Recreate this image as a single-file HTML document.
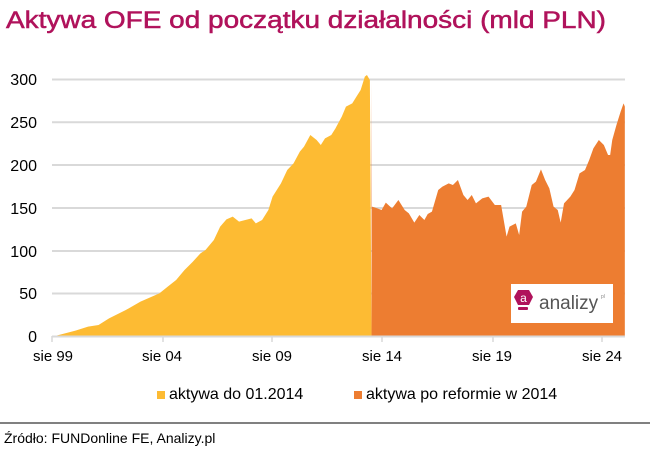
<!DOCTYPE html>
<html><head><meta charset="utf-8"><style>
body{margin:0;background:#fff;}
svg{display:block;font-family:"Liberation Sans",sans-serif;}
</style></head><body>
<svg width="650" height="453" viewBox="0 0 650 453">
<rect width="650" height="453" fill="#fff"/>
<text x="6" y="28" font-size="24" fill="#b0125b" stroke="#b0125b" stroke-width="0.5" textLength="600" lengthAdjust="spacingAndGlyphs">Aktywa OFE od początku działalności (mld PLN)</text>
<g stroke="#d9d9d9" stroke-width="2">
<line x1="52" x2="625" y1="79.5" y2="79.5"/>
<line x1="52" x2="625" y1="122.3" y2="122.3"/>
<line x1="52" x2="625" y1="165" y2="165"/>
<line x1="52" x2="625" y1="208" y2="208"/>
<line x1="52" x2="625" y1="251" y2="251"/>
<line x1="52" x2="625" y1="293.5" y2="293.5"/>
</g>
<g transform="translate(0,60) scale(0.41935,0.33333)">
<polygon fill="#fdbb33" points="125,830 140,825 180,812 210,800 235,795 260,775 300,750 335,725 380,700 400,680 420,660 440,630 460,605 478,580 490,570 510,540 525,500 540,478 555,470 570,485 600,475 610,490 625,480 640,450 650,410 670,370 685,330 700,310 715,275 725,260 740,225 755,240 765,255 775,235 790,225 800,205 815,170 825,140 840,130 850,110 860,90 870,50 875,45 882,60 886,830"/>
<polygon fill="#ed7d31" points="886,830 886,60 887,440 900,445 910,450 920,428 935,445 950,420 965,450 975,460 988,488 1000,465 1012,480 1020,462 1030,455 1045,390 1055,380 1070,370 1080,375 1092,360 1105,405 1115,420 1125,405 1135,430 1150,415 1165,410 1180,435 1195,435 1208,530 1215,500 1230,490 1238,525 1245,455 1255,440 1268,375 1278,365 1290,328 1300,360 1310,385 1320,440 1330,450 1337,488 1345,430 1360,410 1370,390 1382,340 1395,330 1405,300 1415,265 1428,240 1440,255 1450,285 1455,285 1460,240 1470,195 1480,155 1487,130 1490,140 1490,830"/>
</g>
<line x1="52" x2="625" y1="336.5" y2="336.5" stroke="#d9d9d9" stroke-width="2"/>
<g stroke="#d9d9d9" stroke-width="1.5">
<line x1="52" x2="52" y1="336" y2="342"/><line x1="163" x2="163" y1="336" y2="342"/>
<line x1="272" x2="272" y1="336" y2="342"/><line x1="382" x2="382" y1="336" y2="342"/>
<line x1="493" x2="493" y1="336" y2="342"/><line x1="602" x2="602" y1="336" y2="342"/>
</g>
<g font-size="16" fill="#000" text-anchor="end">
<text x="37" y="85">300</text><text x="37" y="128">250</text><text x="37" y="171">200</text>
<text x="37" y="214">150</text><text x="37" y="257">100</text><text x="37" y="299">50</text><text x="37" y="342">0</text>
</g>
<g font-size="15" fill="#000" text-anchor="middle">
<text x="53" y="361">sie 99</text><text x="162" y="361">sie 04</text><text x="272" y="361">sie 09</text>
<text x="382" y="361">sie 14</text><text x="492" y="361">sie 19</text><text x="602" y="361">sie 24</text>
</g>
<rect x="511" y="284" width="102" height="39" fill="#fff"/>
<polygon points="514,297 518,290 529,290 533,297 529,305 518,305" fill="#b0125b"/>
<rect x="518" y="307" width="10" height="3" rx="1" fill="#b0125b"/>
<text x="523.5" y="302" font-size="12" fill="#fff" text-anchor="middle">a</text>
<text x="539" y="309" font-size="19" fill="#555">analizy</text>
<text x="601" y="298" font-size="5" fill="#888">pl</text>
<rect x="157" y="391" width="8" height="8" fill="#fdbb33"/>
<text x="169" y="399" font-size="16" fill="#000">aktywa do 01.2014</text>
<rect x="354" y="391" width="8" height="8" fill="#ed7d31"/>
<text x="366" y="399" font-size="16" fill="#000">aktywa po reformie w 2014</text>
<line x1="0" x2="650" y1="423" y2="423" stroke="#000" stroke-width="1"/>
<text x="4" y="443" font-size="14" fill="#000">Źródło: FUNDonline FE, Analizy.pl</text>
</svg>
</body></html>
